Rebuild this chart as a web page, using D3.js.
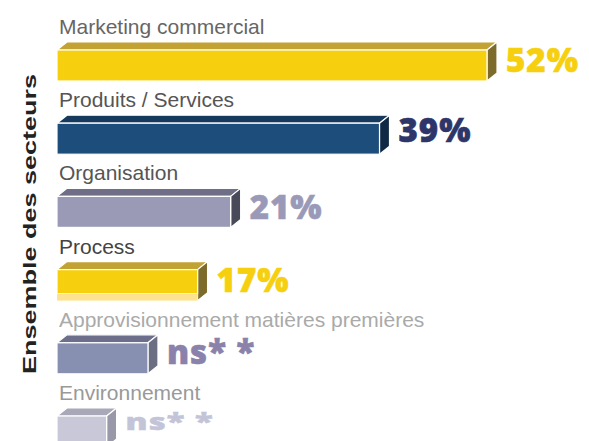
<!DOCTYPE html>
<html>
<head>
<meta charset="utf-8">
<script src="https://cdn.jsdelivr.net/npm/d3@7"></script>
<style>
  body { margin: 0; background: #fff; }
  svg { display: block; }
</style>
</head>
<body>
<div id="chart"></div>
<script>
// Data
const categories = [
    'Marketing commercial',
    'Produits / Services',
    'Organisation',
    'Process',
    'Approvisionnement matières premières',
    'Environnement'
];
const values = [52, 39, 21, 17, 11, 6];
const valueLabels = ['52%', '39%', '21%', '17%', 'ns* *', 'ns* *'];
const axisTitle = 'Ensemble des secteurs';

// Styles per row: front, top, side, label colour, category text colour, label offset / squash
const palette = [
    { front: '#f6d00e', top: '#c2a233', side: '#7d6b2c', value: '#f6d00e', text: '#666666', dy: 22, sy: 1 },
    { front: '#1d4d7b', top: '#163a5e', side: '#0f2945', value: '#2d3569', text: '#555555', dy: 19, sy: 1 },
    { front: '#9a9ab6', top: '#6e6e86', side: '#484a5a', value: '#9a9ab8', text: '#555555', dy: 23, sy: 1 },
    { front: '#f6d00e', top: '#c2a233', side: '#7d6b2c', value: '#f6d00e', text: '#444444', dy: 22, sy: 1, strip: '#fde38f' },
    { front: '#8890b2', top: '#6c6e8c', side: '#6c6e84', value: '#8a82aa', text: '#aaaaaa', dy: 21, sy: 1 },
    { front: '#c8c8d8', top: '#a8a8b8', side: '#9898a8', value: '#c4c4d8', text: '#999999', dy: 14, sy: 0.7 }
];

const width = 589;
const height = 441;
const depthX = 10;
const depthY = 8;
const barH = 31;

const svg = d3.select('#chart')
    .append('svg')
    .attr('width', width)
    .attr('height', height);

// Scales
const x = d3.scaleLinear()
    .domain([0, 52])
    .range([57, 487]);

const y = d3.scaleBand()
    .domain(categories)
    .range([42, 42 + 73.2 * categories.length])
    .padding(0);

const rows = categories.map((c, i) => ({
    category: c,
    value: values[i],
    label: valueLabels[i],
    style: palette[i]
}));

const g = svg.selectAll('g.row')
    .data(rows)
    .enter()
    .append('g')
    .attr('class', 'row');

// Category labels
g.append('text')
    .attr('x', 59)
    .attr('y', d => y(d.category) - 8)
    .attr('font-family', 'Liberation Sans, Arial, sans-serif')
    .attr('font-size', '21px')
    .attr('fill', d => d.style.text)
    .text(d => d.category);

// Top face
g.append('path')
    .attr('d', d => {
        const x0 = x(0), x1 = x(d.value), t = y(d.category);
        return `M${x0},${t + depthY} L${x0 + depthX},${t} L${x1 + depthX},${t} L${x1},${t + depthY} Z`;
    })
    .attr('fill', d => d.style.top)
    .attr('stroke', '#fff')
    .attr('stroke-width', 1.2);

// Side face
g.append('path')
    .attr('d', d => {
        const x1 = x(d.value), t = y(d.category);
        return `M${x1},${t + depthY} L${x1 + depthX},${t} L${x1 + depthX},${t + barH} L${x1},${t + depthY + barH} Z`;
    })
    .attr('fill', d => d.style.side)
    .attr('stroke', '#fff')
    .attr('stroke-width', 1.2);

// Front face
g.append('rect')
    .attr('x', x(0))
    .attr('y', d => y(d.category) + depthY)
    .attr('width', d => x(d.value) - x(0))
    .attr('height', d => d.style.strip ? barH - 7 : barH)
    .attr('fill', d => d.style.front)
    .attr('stroke', '#fff')
    .attr('stroke-width', 1.2);

// Pale base strip (Process)
g.filter(d => d.style.strip)
    .append('rect')
    .attr('x', x(0))
    .attr('y', d => y(d.category) + depthY + barH - 7)
    .attr('width', d => x(d.value) - x(0))
    .attr('height', 7)
    .attr('fill', d => d.style.strip);

// Value labels
g.append('text')
    .attr('transform', d => `translate(${x(d.value) + depthX + 9},${y(d.category) + depthY + d.style.dy}) scale(1,${d.style.sy})`)
    .attr('font-family', 'Open Sans, sans-serif')
    .attr('font-weight', 800)
    .attr('font-size', '33px')
    .attr('letter-spacing', '1px')
    .attr('stroke', d => d.style.value)
    .attr('stroke-width', 0.6)
    .attr('fill', d => d.style.value)
    .text(d => d.label);

// Axis title
svg.append('text')
    .attr('transform', `translate(36, ${(73 + 375) / 2}) rotate(-90)`)
    .attr('text-anchor', 'middle')
    .attr('font-family', 'Liberation Sans, Arial, sans-serif')
    .attr('font-weight', 'bold')
    .attr('font-size', '19px')
    .attr('fill', '#222')
    .attr('textLength', 300)
    .attr('lengthAdjust', 'spacingAndGlyphs')
    .text(axisTitle);
</script>
</body>
</html>
